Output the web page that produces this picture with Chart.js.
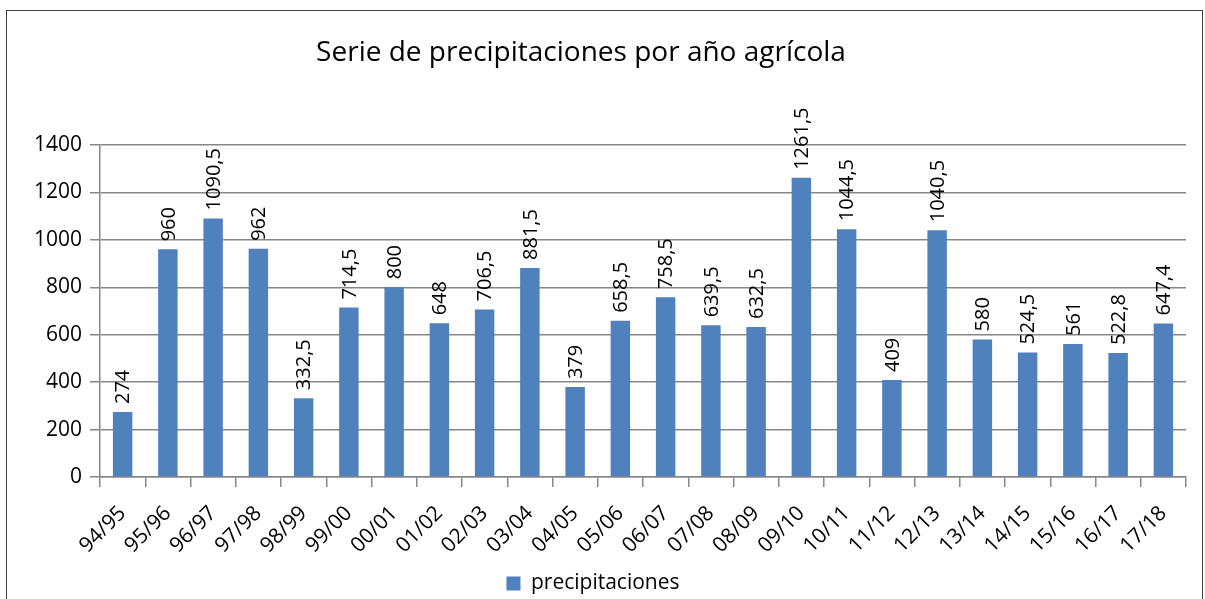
<!DOCTYPE html>
<html>
<head>
<meta charset="utf-8">
<script src="https://cdn.jsdelivr.net/npm/chart.js@4.4.1/dist/chart.umd.min.js"></script>
<style>
html, body { margin: 0; padding: 0; background: #fff; overflow: hidden; }
#frame { position: absolute; left: 6px; top: 10px; width: 1197px; height: 700px; border: 1px solid #3f3f3f; box-sizing: border-box; }
#chart { position: absolute; left: 0; top: 0; }
</style>
</head>
<body>
<div id="frame"></div>
<canvas id="chart" width="1205" height="599"></canvas>
<script>
// agricultural years on the x axis
const seasons = ["94/95", "95/96", "96/97", "97/98", "98/99", "99/00", "00/01", "01/02",
    "02/03", "03/04", "04/05", "05/06", "06/07", "07/08", "08/09", "09/10",
    "10/11", "11/12", "12/13", "13/14", "14/15", "15/16", "16/17", "17/18"];

// rainfall per year (mm)
const precipitaciones = [274, 960, 1090.5, 962, 332.5, 714.5, 800, 648,
    706.5, 881.5, 379, 658.5, 758.5, 639.5, 632.5, 1261.5,
    1044.5, 409, 1040.5, 580, 524.5, 561, 522.8, 647.4];

// y axis range
const yMin = 0;
const yMax = 1400;
const yStep = 200;

const chartTitle = "Serie de precipitaciones por año agrícola";
const seriesName = "precipitaciones";

const fontName = "Open Sans";
const gridColor = "#878787";

// numbers are written with a decimal comma
function formatValue(v) {
    return String(v).replace(".", ",");
}

// title is centred over the drawing like the original, not over the canvas
const titlePlugin = {
    id: 'title_text',
    afterDraw: (chart) => {
        const ctx = chart.ctx;
        ctx.save();
        ctx.font = "28px " + fontName;
        ctx.fillStyle = "#000";
        ctx.textAlign = "center";
        ctx.textBaseline = "middle";
        ctx.fillText(chartTitle, 581, 53);
        ctx.restore();
    }
};

// vertical value labels on top of every bar
const valueLabels = {
    id: 'value_labels',
    afterDatasetsDraw: (chart) => {
        const ctx = chart.ctx;
        const meta = chart.getDatasetMeta(0);
        ctx.save();
        ctx.font = "20px " + fontName;
        ctx.fillStyle = "#000";
        ctx.textAlign = "left";
        ctx.textBaseline = "middle";
        meta.data.forEach((bar, i) => {
            ctx.save();
            ctx.translate(bar.x + 1, bar.y - 8);
            ctx.rotate(-Math.PI / 2);
            ctx.fillText(formatValue(precipitaciones[i]), 0, 0);
            ctx.restore();
        });
        ctx.restore();
    }
};

const padBottom = -5;

let myChart = new Chart(document.getElementById("chart"), {
    type: 'bar',
    data: {
        labels: seasons,
        datasets: [{
            label: seriesName,
            data: precipitaciones,
            backgroundColor: '#4f81bd',
            borderWidth: 0,
            barPercentage: 0.43,
            categoryPercentage: 1.0
        }]
    },
    options: {
        responsive: false,
        animation: false,
        layout: {
            padding: {left: 0, right: 19, top: 145, bottom: padBottom}
        },
        plugins: {
            title: {display: false},
            tooltip: {enabled: false},
            legend: {
                position: 'bottom',
                labels: {
                    boxWidth: 14,
                    boxHeight: 14,
                    color: '#000',
                    font: {family: fontName, size: 21}
                }
            }
        },
        scales: {
            y: {
                min: yMin,
                max: yMax,
                ticks: {
                    stepSize: yStep,
                    color: '#000',
                    padding: 8,
                    font: {family: fontName, size: 21},
                    callback: (value) => String(value)
                },
                grid: {color: gridColor, lineWidth: 1.5, tickLength: 10},
                border: {color: gridColor, width: 1.5},
                afterFit: (scale) => { scale.width = 100; }
            },
            x: {
                ticks: {
                    minRotation: 45,
                    maxRotation: 45,
                    color: '#000',
                    padding: 14,
                    font: {family: fontName, size: 21}
                },
                grid: {drawOnChartArea: false, color: gridColor, lineWidth: 1.5, tickLength: 10},
                border: {color: gridColor, width: 1.5},
                afterFit: (scale) => {
                    const legendH = scale.chart.legend ? scale.chart.legend.height : 0;
                    scale.height = scale.chart.height - 477 - padBottom - legendH;
                }
            }
        }
    },
    plugins: [titlePlugin, valueLabels]
});
</script>
</body>
</html>
